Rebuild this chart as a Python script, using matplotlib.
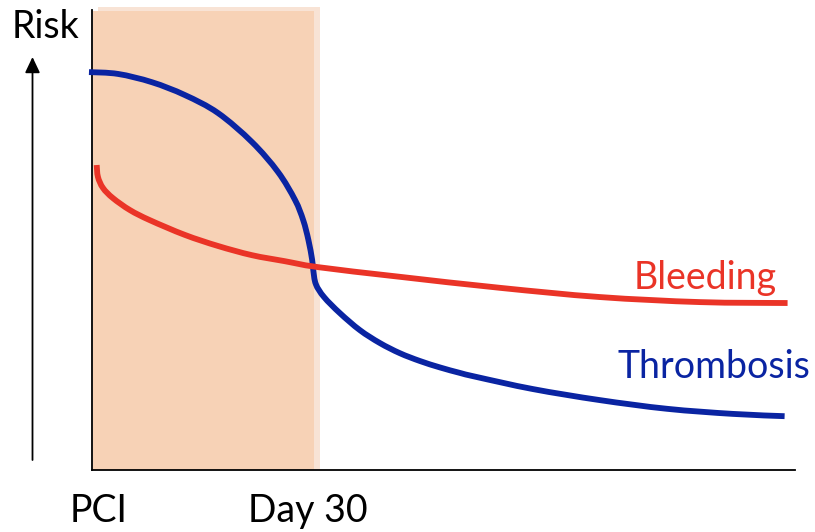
import matplotlib
matplotlib.use('Agg')
import matplotlib.pyplot as plt
import numpy as np
from matplotlib.patches import Rectangle, PathPatch
from matplotlib.path import Path

plt.rcParams['font.family'] = ['Lato', 'DejaVu Sans']

# risk curves after PCI (days, relative risk)
thromb_days = [-0.34, 3.57, 8.14, 12.58, 17.03, 21.6, 25.1, 27.4, 28.5, 29.2,
               29.7, 29.85, 30.2, 31.3, 33.44, 36.13, 38.82, 41.5, 44.2,
               46.9, 49.6, 51.9, 59.4, 68.4, 77.5, 86.3, 93.3]
thromb_risk = [86.5, 86.1, 84.3, 81.5, 77.6, 71.3, 64.8, 58.7, 54.3, 50.0,
               45.7, 43.5, 40.4, 37.6, 34.1, 30.4, 27.6, 25.4, 23.7,
               22.3, 21.1, 20.2, 17.6, 15.2, 13.3, 12.2, 11.7]

bleed_days = [0.7, 0.87, 1.55, 2.89, 5.18, 7.87, 12.58, 17.03, 21.6, 26.0,
              30.5, 41.5, 55.0, 68.4, 81.9, 93.7]
bleed_risk = [66.3, 63.7, 61.3, 59.1, 56.5, 54.3, 51.1, 48.7, 46.7, 45.4,
              44.1, 42.0, 39.6, 37.6, 36.5, 36.3]

dapt_end = 30
blue = '#0A24A2'
red = '#EA3427'


def smooth_path(xs, ys):
    # Catmull-Rom through the points, as cubic bezier segments
    p = np.column_stack([xs, ys]).astype(float)
    p = np.vstack([p[0], p, p[-1]])
    verts = [p[1]]
    codes = [Path.MOVETO]
    for i in range(1, len(p) - 2):
        c1 = p[i] + (p[i + 1] - p[i - 1]) / 6
        c2 = p[i + 1] - (p[i + 2] - p[i]) / 6
        verts += [c1, c2, p[i + 1]]
        codes += [Path.CURVE4] * 3
    return Path(verts, codes)


fig = plt.figure(figsize=(8.15, 5.32), dpi=100)
W, H = 815, 532
ax = fig.add_axes([91.5 / W, 62 / H, (795 - 91.5) / W, 460 / H])
ax.set_xlim(0, 94.7)
ax.set_ylim(0, 100)

# first month shaded
ax.add_patch(Rectangle((0.9, 0), dapt_end - 0.9 + 0.75, 100.65, color='#F8E3D5',
                       lw=0, clip_on=False, zorder=0))
ax.add_patch(Rectangle((0.15, 0), dapt_end - 0.15, 99.8, color='#F7D2B6',
                       lw=0, clip_on=False, zorder=0.5))

for xs, ys, c in [(thromb_days, thromb_risk, blue), (bleed_days, bleed_risk, red)]:
    ax.add_patch(PathPatch(smooth_path(xs, ys), fill=False, edgecolor=c,
                           lw=4.2, capstyle='butt', clip_on=False, zorder=3))

for s in ['top', 'right']:
    ax.spines[s].set_visible(False)
for s in ['left', 'bottom']:
    ax.spines[s].set_linewidth(1.3)
ax.set_xticks([])
ax.set_yticks([])

# risk arrow
ax.annotate('', xy=(32.5, H - 57), xytext=(32.5, H - 460),
            xycoords='figure pixels', textcoords='figure pixels',
            arrowprops=dict(arrowstyle='-|>,head_length=0.95,head_width=0.45',
                            mutation_scale=10, lw=1.3, color='black',
                            shrinkA=0, shrinkB=0))

fs = 27
fig.text(12 / W, 1 - 38 / H, 'Risk', fontsize=fs, va='baseline', ha='left')
fig.text(70 / W, 1 - 522 / H, 'PCI', fontsize=fs, va='baseline', ha='left')
fig.text(248 / W, 1 - 522 / H, 'Day 30', fontsize=fs, va='baseline', ha='left')
fig.text(777 / W, 1 - 289 / H, 'Bleeding', fontsize=fs, va='baseline',
         ha='right', color=red)
fig.text(810 / W, 1 - 378 / H, 'Thrombosis', fontsize=fs, va='baseline',
         ha='right', color=blue)

fig.savefig('out.png', dpi=100)
